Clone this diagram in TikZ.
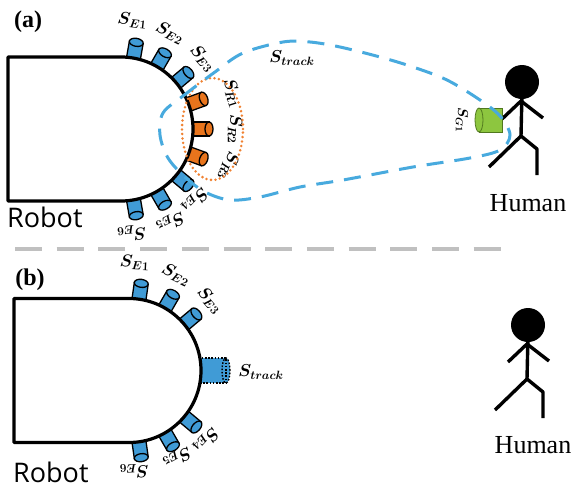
\documentclass[tikz,border=0pt]{standalone}
\usepackage{fontspec}
\usepackage{bm}
\setmainfont{Liberation Serif}
\newfontfamily\robotfont{Open Sans}
\usetikzlibrary{calc}

\definecolor{sblue}{RGB}{64,155,214}
\definecolor{sorange}{RGB}{232,116,28}
\definecolor{sgreen}{RGB}{141,198,63}
\definecolor{gedge}{RGB}{80,120,30}
\definecolor{tblue}{RGB}{72,170,222}
\definecolor{dotorange}{RGB}{240,130,50}
\definecolor{sepgray}{RGB}{192,192,192}

\tikzset{
  % cylindrical range sensor, pointing along local +x
  sensorcyl/.pic={
    \path[pic actions, draw=black, line width=1.3pt] (-4,-7) rectangle (16,7);
    \path[pic actions, draw=black, line width=1.3pt] (16,0) ellipse [x radius=4, y radius=7];
  },
  % tracking sensor drawn with a dotted outline
  tracksensor/.pic={
    \fill[sblue] (-3,-12.5) rectangle (25,12.5);
    \fill[sblue] (25,0) ellipse [x radius=4, y radius=12.5];
    \draw[black, line width=1.4pt, dash pattern=on 1.6pt off 1.6pt] (-3,-12.5) rectangle (25,12.5);
    \draw[black, line width=1.4pt, dash pattern=on 1.6pt off 1.6pt] (25,0) ellipse [x radius=4, y radius=12.5];
  },
  stickman/.pic={
    \fill[black] (0,0) circle (17);
    \draw[black, line width=3.4pt, line join=round] (0,-10) -- (-1,-54);
    \draw[black, line width=3.4pt, line join=round] (-20,-37) -- (-1,-19) -- (21,-36);
    \draw[black, line width=3.4pt, line join=round] (-33,-85) -- (-1,-54) -- (15,-67) -- (15,-93);
  },
  robotline/.style={line width=3.2pt, line join=round},
  sensorlbl/.style={font=\fontsize{16.5}{16.5}\selectfont, inner sep=0pt},
  panellbl/.style={font=\fontsize{24}{24}\selectfont\bfseries, inner sep=0pt},
  robotlbl/.style={font=\fontsize{27}{27}\selectfont\robotfont, inner sep=0pt},
  humanlbl/.style={font=\fontsize{26}{26}\selectfont, inner sep=0pt},
  trackline/.style={tblue, line width=3pt, dash pattern=on 17pt off 11pt},
  rangeline/.style={dotorange, line width=2.8pt, line cap=round, dash pattern=on 0pt off 4.5pt},
  sepline/.style={sepgray, line width=3.6pt, dash pattern=on 27pt off 14.7pt},
}

\begin{document}
\begin{tikzpicture}[x=1pt,y=1pt]
\useasboundingbox (0,0) rectangle (576,-488);

% ---------------- panel (a) ----------------
\coordinate (ca) at (121,-129);
\foreach \a/\n in {80/1,60/2,40/3,-40/4,-60/5,-80/6}
  \pic[fill=sblue, rotate=\a] (sEa\n) at ($(ca)+(\a:72)$) {sensorcyl};
\foreach \a/\n in {20/1,0/2,-20/3}
  \pic[fill=sorange, rotate=\a] (sRa\n) at ($(ca)+(\a:72)$) {sensorcyl};
\filldraw[robotline, fill=white] (8,-57) -- (121,-57)
  arc[start angle=90, end angle=-90, radius=72] -- (8,-201) -- cycle;

\foreach \a/\r/\t/\n in {84/109/E1/e1, 63/108/E2/e2, 41/108/E3/e3,
                         18/117/R1/r1, 0/114/R2/r2, -19/114/R3/r3,
                         -44/103/E4/e4, -62/106/E5/e5, -84/105/E6/e6}
  \node[sensorlbl, rotate=\a-90] (la\n) at ($(ca)+(\a:\r)$) {$\bm{S_{\t}}$};

% detection range of the R sensors
\draw[rangeline] (212.5,-129) ellipse [x radius=30.5, y radius=51];

% human with worn sensor
\pic (manA) at (522,-82) {stickman};
\filldraw[fill=sgreen, draw=gedge, line width=0.8pt] (479,-108) rectangle (502,-132);
\filldraw[fill=sgreen, draw=gedge, line width=0.8pt] (479,-120) ellipse [x radius=4, y radius=12];
\node[sensorlbl, font=\fontsize{14}{14}\selectfont, rotate=-90] (lg1) at (462,-120) {$\bm{S_{G1}}$};

% tracking field
\draw[trackline] plot[smooth cycle, tension=0.55] coordinates {
  (163,-113) (183,-96) (215,-72) (243,-53) (283,-42) (310,-42) (340,-47)
  (380,-57) (413,-67) (447,-80) (480,-100) (500,-116) (510,-135) (500,-150)
  (470,-158) (413,-167) (343,-180) (300,-187) (260,-197) (230,-200)
  (205,-192) (185,-177) (168,-158) (160,-135)};
\node[sensorlbl] (ltrackA) at (292,-58) {$\bm{S_{track}}$};

\node[panellbl] (pa) at (28,-22) {(a)};
\node[robotlbl, anchor=base west] (robA) at (7,-227) {Robot};
\node[humanlbl, anchor=base] (humA) at (528,-211) {Human};

% separator
\coordinate (sepL) at (15,-249);
\coordinate (sepR) at (503,-249);
\draw[sepline] (sepL) -- (sepR);

% ---------------- panel (b) ----------------
\coordinate (cb) at (129,-370.5);
\foreach \a/\n in {82/1,60/2,40/3,-40/4,-60/5,-82/6}
  \pic[fill=sblue, rotate=\a] (sEb\n) at ($(cb)+(\a:72)$) {sensorcyl};
\pic (strk) at ($(cb)+(0:72)$) {tracksensor};
\filldraw[robotline, fill=white] (14,-298.5) -- (129,-298.5)
  arc[start angle=90, end angle=-90, radius=72] -- (14,-442.5) -- cycle;

\foreach \a/\r/\t/\n in {87/108/E1/e1, 64/107/E2/e2, 41/107/E3/e3,
                         -42/104/E4/e4, -61/100/E5/e5, -87/101/E6/e6}
  \node[sensorlbl, rotate=\a-90] (lb\n) at ($(cb)+(\a:\r)$) {$\bm{S_{\t}}$};
\node[sensorlbl] (ltrackB) at (261,-372) {$\bm{S_{track}}$};

\pic (manB) at (528,-325) {stickman};

\node[panellbl] (pb) at (30,-280) {(b)};
\node[robotlbl, anchor=base west] (robB) at (13,-482) {Robot};
\node[humanlbl, anchor=base] (humB) at (533,-453) {Human};
\end{tikzpicture}
\end{document}
